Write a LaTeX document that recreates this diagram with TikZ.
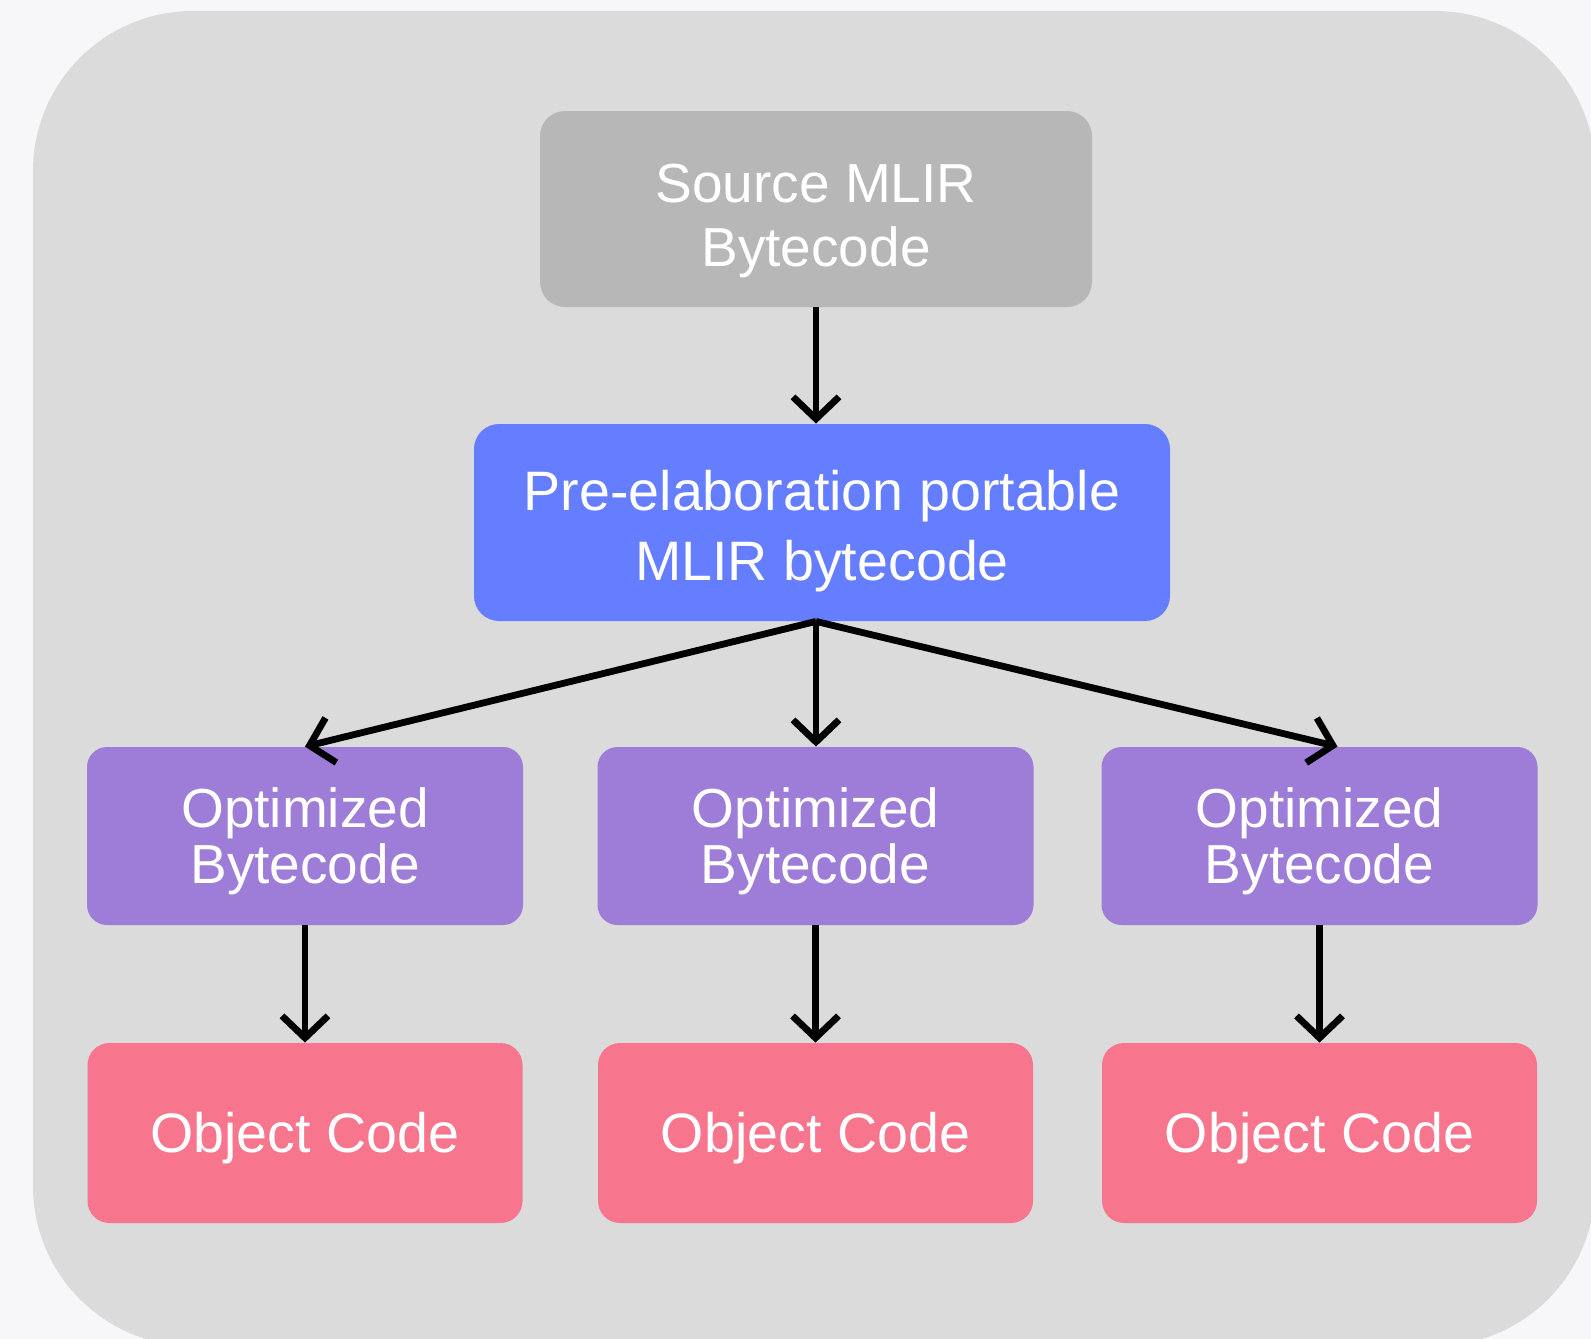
\documentclass[tikz,border=0pt]{standalone}
\usepackage{fontspec}
\setmainfont{Liberation Sans}
\usetikzlibrary{arrows.meta}
\definecolor{pagebg}{HTML}{F7F7F9}
\definecolor{panelbg}{HTML}{DBDBDB}
\definecolor{srcfill}{HTML}{B7B7B7}
\definecolor{bluefill}{HTML}{657DFF}
\definecolor{purplefill}{HTML}{9D7DD8}
\definecolor{pinkfill}{HTML}{F7768D}
% invisible strut that lowers the text block inside a box
\newcommand{\lowerby}[1]{\rule{0pt}{#1}}
\tikzset{
  box/.style={rectangle, text=white, align=center, inner sep=0pt, text depth=0pt},
  srcbox/.style={box, fill=srcfill, rounded corners=12.5pt,
    minimum width=276pt, minimum height=98pt,
    font=\fontsize{27.5}{32}\selectfont},
  midbox/.style={box, fill=bluefill, rounded corners=12.5pt,
    minimum width=348pt, minimum height=98.5pt,
    font=\fontsize{27.8}{35}\selectfont},
  optbox/.style={box, fill=purplefill, rounded corners=10pt,
    minimum width=218pt, minimum height=89pt,
    font=\fontsize{27.5}{28}\selectfont},
  objbox/.style={box, fill=pinkfill, rounded corners=11pt,
    minimum width=217.5pt, minimum height=90pt, text depth=0.8pt,
    font=\fontsize{27.8}{32}\selectfont},
  flow/.style={line width=3.4pt, line join=miter,
    -{Straight Barb[length=11pt,width=23pt,line join=miter]}}
}
\begin{document}
\begin{tikzpicture}[x=0.5pt,y=-0.5pt]
  % page and panel
  \useasboundingbox (0,0) rectangle (1591,1339);
  \fill[pagebg] (0,0) rectangle (1591,1339);
  \begin{scope}
    \clip (0,0) rectangle (1591,1339);
    \fill[panelbg, rounded corners=80pt] (33,11) rectangle (1595,1346);
  \end{scope}

  % nodes
  \node[srcbox] (src) at (816,209) {\lowerby{25pt}Source MLIR\\Bytecode};
  \node[midbox] (pre) at (822,522.5) {\lowerby{23pt}Pre-elaboration portable\\MLIR bytecode};
  \node[optbox] (opt1) at (305,836) {Optimized\\Bytecode};
  \node[optbox] (opt2) at (815.5,836) {Optimized\\Bytecode};
  \node[optbox] (opt3) at (1319.5,836) {Optimized\\Bytecode};
  \node[objbox] (obj1) at (305,1133) {Object Code};
  \node[objbox] (obj2) at (815.5,1133) {Object Code};
  \node[objbox] (obj3) at (1319.5,1133) {Object Code};

  % fan-out point under the middle box
  \coordinate (fan) at (src.south |- pre.south);

  % connectors
  \draw[flow] (src.south) -- (src.south |- pre.north);
  \draw[flow] (fan) -- (opt1.north);
  \draw[flow] (fan) -- (fan |- opt2.north);
  \draw[flow] (fan) -- ([xshift=9pt]opt3.north);
  \draw[flow] (opt1.south) -- (obj1.north);
  \draw[flow] (opt2.south) -- (obj2.north);
  \draw[flow] (opt3.south) -- (obj3.north);
\end{tikzpicture}
\end{document}
